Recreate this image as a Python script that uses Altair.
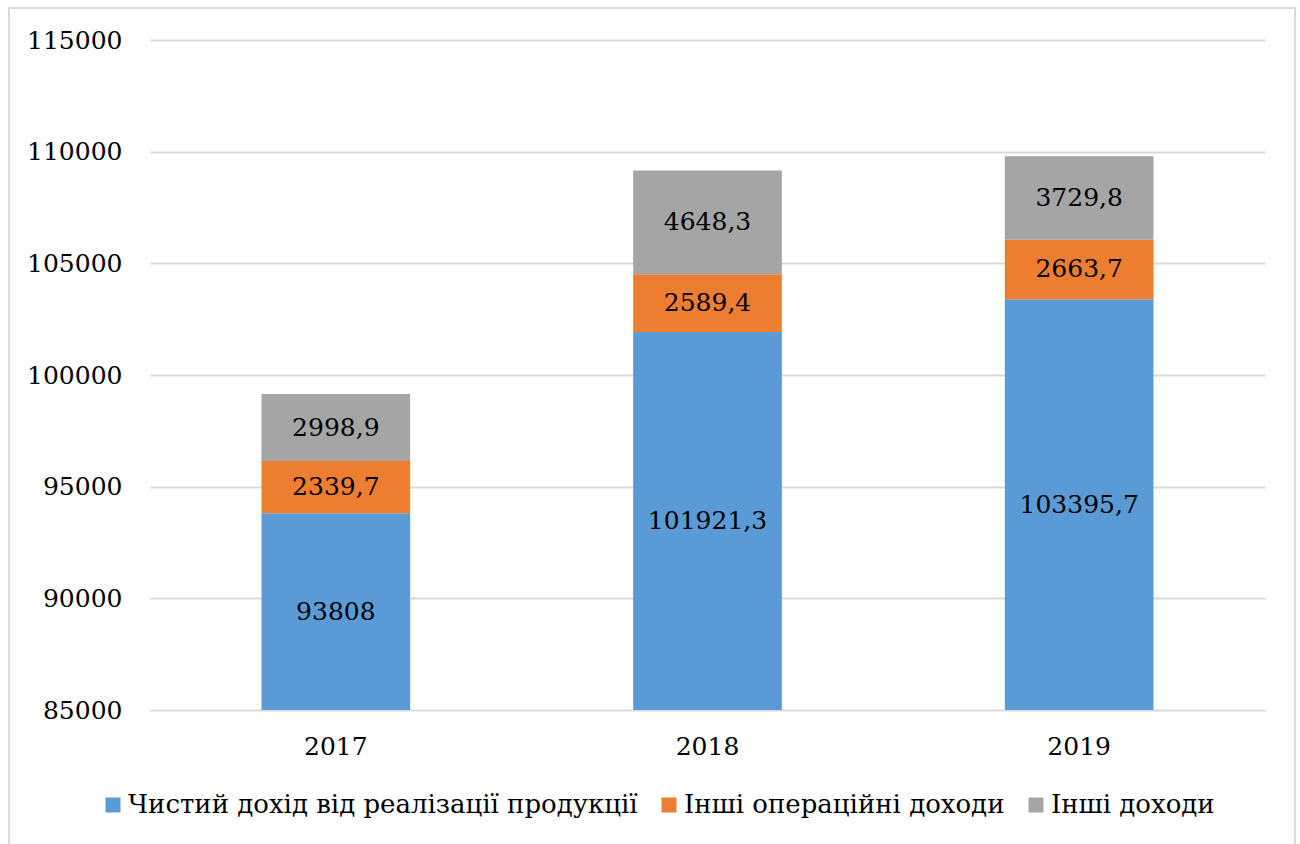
import altair as alt
import pandas as pd

years = ["2017", "2018", "2019"]
series = ["Чистий дохід від реалізації продукції", "Інші операційні доходи", "Інші доходи"]
net_income = [93808, 101921.3, 103395.7]
operating_income = [2339.7, 2589.4, 2663.7]
other_income = [2998.9, 4648.3, 3729.8]
colors = ["#5B9BD5", "#ED7D31", "#A5A5A5"]
y_ticks = [85000, 90000, 95000, 100000, 105000, 110000, 115000]

FONT = "DejaVu Serif"
FS = 25
y_min, y_max = y_ticks[0], y_ticks[-1]


def fmt(v):
    s = ("%.1f" % v).rstrip("0").rstrip(".")
    return s.replace(".", ",")


rows = []
for i, yr in enumerate(years):
    base = 0.0
    for k, (name, vals) in enumerate(zip(series, [net_income, operating_income, other_income])):
        v = vals[i]
        start, end = base, base + v
        rows.append(dict(year=yr, series=name, order=k, start=start, end=end,
                         mid=(max(start, y_min) + end) / 2, label=fmt(v)))
        base = end
df = pd.DataFrame(rows)

x_enc = alt.X("year:N", title=None, sort=years,
              scale=alt.Scale(paddingInner=0.6, paddingOuter=0.3),
              axis=alt.Axis(labelAngle=0, labelFont=FONT, labelFontSize=FS, labelColor="#000000",
                            labelPadding=24, ticks=False, domain=False, grid=False))
y_scale = alt.Scale(domain=[y_min, y_max])

bars = alt.Chart(df).mark_bar(clip=True).encode(
    x=x_enc,
    y=alt.Y("start:Q", scale=y_scale, title=None,
            axis=alt.Axis(values=y_ticks, format="d", grid=True, gridColor="#d9d9d9", gridWidth=2,
                          domain=False, ticks=False, labelFont=FONT, labelFontSize=FS,
                          labelColor="#000000", labelPadding=28)),
    y2="end:Q",
    color=alt.Color("series:N", scale=alt.Scale(domain=series, range=colors),
                    legend=alt.Legend(title=None, orient="none", legendX=-50, legendY=752,
                                      direction="horizontal", symbolType="square", symbolSize=225,
                                      symbolStrokeWidth=0, labelFont=FONT, labelFontSize=26,
                                      labelColor="#000000", labelLimit=2000, columnPadding=18,
                                      labelOffset=2)),
    order="order:Q",
)

texts = alt.Chart(df).mark_text(font=FONT, fontSize=FS, color="#000000", baseline="middle").encode(
    x=alt.X("year:N", sort=years),
    y=alt.Y("mid:Q", scale=y_scale),
    text="label:N",
)

border = alt.Chart(pd.DataFrame({"a": [0]})).mark_rect(
    fill="transparent", stroke="#d9d9d9", strokeWidth=2
).encode(x=alt.value(-141), x2=alt.value(1145), y=alt.value(-32), y2=alt.value(830))

chart = alt.layer(bars, texts, border).properties(
    width=1115, height=670,
    autosize=alt.AutoSizeParams(type="none"),
    padding={"left": 150, "top": 40, "right": 35, "bottom": 134},
    background="white",
).configure_view(strokeWidth=0)

chart.save("out.html", embed_options={"renderer": "svg", "actions": False})
